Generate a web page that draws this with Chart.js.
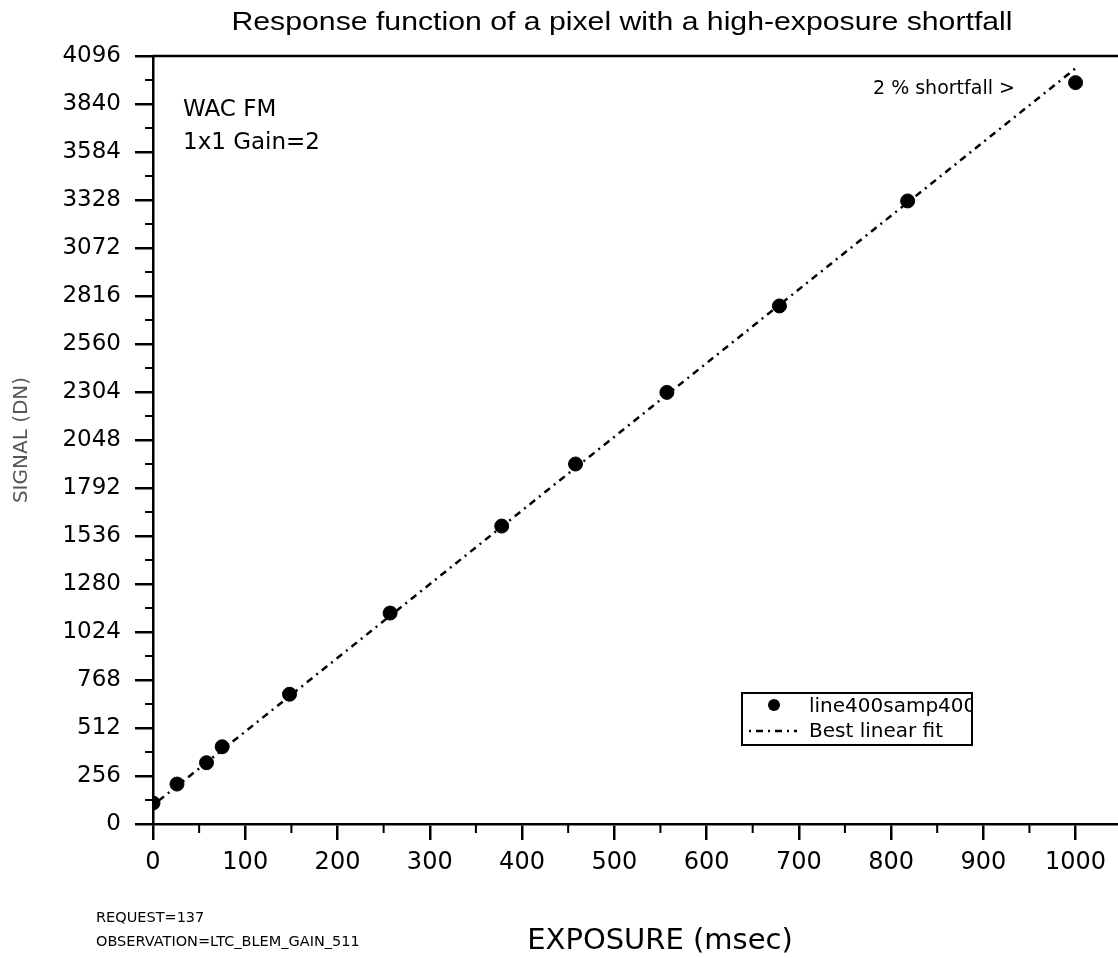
<!DOCTYPE html>
<html>
<head>
<meta charset="utf-8">
<script src="https://cdn.jsdelivr.net/npm/chart.js@4.4.0/dist/chart.umd.min.js"></script>
<style>
  html, body { margin: 0; padding: 0; background: #fff; }
  #wrap { width: 1118px; height: 958px; }
</style>
</head>
<body>
<div id="wrap"><canvas id="chart" width="1118" height="958"></canvas></div>
<script>
// Measured points (exposure in msec, signal in DN)
const exposures = [0, 26, 58, 75, 148, 257, 378, 458, 557, 679, 818, 1000];
const signals = [112, 213, 327, 412, 692, 1125, 1589, 1920, 2302, 2763, 3323, 3954];

// Best linear fit end points
const fitExposures = [0, 1000];
const fitSignals = [100, 4030];

// Axis ticks
const xTicks = [0, 100, 200, 300, 400, 500, 600, 700, 800, 900, 1000];
const xMinorTicks = [50, 150, 250, 350, 450, 550, 650, 750, 850, 950];
const yTicks = [0, 256, 512, 768, 1024, 1280, 1536, 1792, 2048, 2304, 2560, 2816, 3072, 3328, 3584, 3840, 4096];
const yMinorTicks = [128, 384, 640, 896, 1152, 1408, 1664, 1920, 2176, 2432, 2688, 2944, 3200, 3456, 3712, 3968];

const FONT = "'DejaVu Sans', Verdana, sans-serif";
const DASH = [2, 5, 7, 5];

(function() {
    'use strict';

    // draw text squeezed/stretched to a given width
    function fitText(ctx, text, cx, cy, width) {
        const w = ctx.measureText(text).width;
        ctx.save();
        ctx.translate(cx, cy);
        ctx.scale(width / w, 1);
        ctx.textAlign = 'center';
        ctx.fillText(text, 0, 0);
        ctx.restore();
    }

    // Extra drawing: top frame line, minor ticks, notes and the boxed legend
    const extras = {
        id: 'extras',
        afterDraw(chart) {
            const ctx = chart.ctx;
            const area = chart.chartArea;
            const xs = chart.scales.x;
            const ys = chart.scales.y;

            ctx.save();
            ctx.strokeStyle = '#000';
            ctx.lineWidth = 2.5;

            // top frame
            ctx.beginPath();
            ctx.moveTo(area.left, area.top);
            ctx.lineTo(area.right, area.top);
            ctx.stroke();

            // minor ticks
            ctx.lineWidth = 2;
            ctx.beginPath();
            xMinorTicks.forEach(v => {
                const px = xs.getPixelForValue(v);
                ctx.moveTo(px, area.bottom);
                ctx.lineTo(px, area.bottom + 9);
            });
            yMinorTicks.forEach(v => {
                const py = ys.getPixelForValue(v);
                ctx.moveTo(area.left - 8, py);
                ctx.lineTo(area.left, py);
            });
            ctx.stroke();

            ctx.fillStyle = '#000';
            ctx.textBaseline = 'middle';

            // title
            ctx.font = "26px 'Liberation Sans', Arial, sans-serif";
            fitText(ctx, 'Response function of a pixel with a high-exposure shortfall', 622, 23, 781);

            // x axis title
            ctx.textAlign = 'center';
            ctx.font = '29px ' + FONT;
            ctx.fillText('EXPOSURE (msec)', 660, 941);

            // y axis title
            ctx.save();
            ctx.translate(22, 440);
            ctx.rotate(-Math.PI / 2);
            ctx.fillStyle = '#555';
            ctx.font = '20px ' + FONT;
            ctx.fillText('SIGNAL (DN)', 0, 0);
            ctx.restore();

            // notes
            ctx.textAlign = 'left';
            ctx.font = '23px ' + FONT;
            ctx.fillText('WAC FM', 183, 110);
            ctx.fillText('1x1 Gain=2', 183, 143);

            ctx.font = '19px ' + FONT;
            ctx.fillText('2 % shortfall >', 873, 89);
            ctx.font = '14.5px ' + FONT;
            ctx.fillText('REQUEST=137', 96, 918);
            ctx.fillText('OBSERVATION=LTC_BLEM_GAIN_511', 96, 942);

            // legend box
            const lx = 742, ly = 693, lw = 230, lh = 52;
            ctx.fillStyle = '#fff';
            ctx.fillRect(lx, ly, lw, lh);
            ctx.lineWidth = 2;
            ctx.strokeRect(lx, ly, lw, lh);

            ctx.fillStyle = '#000';
            ctx.beginPath();
            ctx.arc(774, 705, 6, 0, Math.PI * 2);
            ctx.fill();

            ctx.setLineDash(DASH);
            ctx.lineWidth = 2.5;
            ctx.beginPath();
            ctx.moveTo(749, 731);
            ctx.lineTo(797, 731);
            ctx.stroke();
            ctx.setLineDash([]);

            ctx.save();
            ctx.beginPath();
            ctx.rect(lx, ly, lw, lh);
            ctx.clip();
            ctx.font = '20px ' + FONT;
            ctx.fillText(chart.data.datasets[0].label, 809, 707);
            ctx.fillText(chart.data.datasets[1].label, 809, 732);
            ctx.restore();

            ctx.restore();
        }
    };

    const axisGrid = {
        display: true,
        drawOnChartArea: false,
        drawTicks: true,
        color: '#000',
        lineWidth: 2.5
    };

    const ctx = document.getElementById('chart').getContext('2d');
    new Chart(ctx, {
        type: 'scatter',
        data: {
            datasets: [
                {
                    label: 'line400samp400',
                    data: exposures.map((x, i) => ({ x: x, y: signals[i] })),
                    backgroundColor: '#000',
                    borderColor: '#000',
                    pointRadius: 7,
                    showLine: false
                },
                {
                    label: 'Best linear fit',
                    data: fitExposures.map((x, i) => ({ x: x, y: fitSignals[i] })),
                    borderColor: '#000',
                    borderWidth: 2.5,
                    borderDash: DASH,
                    pointRadius: 0,
                    showLine: true
                }
            ]
        },
        options: {
            responsive: false,
            animation: false,
            devicePixelRatio: 1,
            layout: { autoPadding: false, padding: { top: 56, left: 0, right: 0, bottom: 0 } },
            plugins: {
                legend: { display: false },
                tooltip: { enabled: false },
                title: { display: false }
            },
            scales: {
                x: {
                    type: 'linear',
                    min: 0,
                    max: 1046,
                    afterBuildTicks: s => { s.ticks = xTicks.map(v => ({ value: v })); },
                    afterFit: s => {
                        s.height = 134;
                        s.paddingLeft = 0;
                        s.paddingRight = 0;
                    },
                    grid: Object.assign({}, axisGrid, { tickLength: 16 }),
                    border: { display: true, color: '#000', width: 2.5 },
                    ticks: {
                        color: '#000',
                        font: { family: FONT, size: 24 },
                        padding: 8,
                        maxRotation: 0,
                        autoSkip: false,
                        callback: v => String(v)
                    }
                },
                y: {
                    type: 'linear',
                    min: 0,
                    max: 4096,
                    afterBuildTicks: s => { s.ticks = yTicks.map(v => ({ value: v })); },
                    afterFit: s => {
                        s.width = 153;
                        s.paddingTop = 0;
                        s.paddingBottom = 0;
                    },
                    grid: Object.assign({}, axisGrid, { tickLength: 18 }),
                    border: { display: true, color: '#000', width: 2.5 },
                    ticks: {
                        color: '#000',
                        font: { family: FONT, size: 23 },
                        padding: 14,
                        autoSkip: false,
                        callback: v => String(v)
                    }
                }
            }
        },
        plugins: [extras]
    });
})();
</script>
</body>
</html>
